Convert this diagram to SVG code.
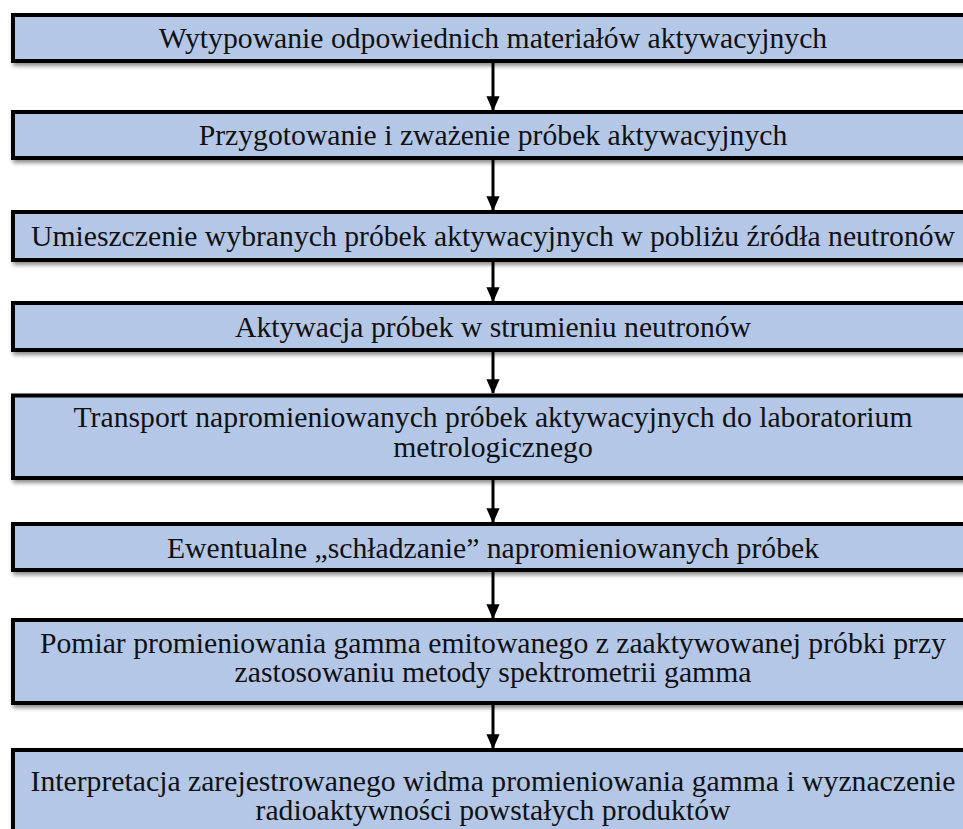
<svg xmlns="http://www.w3.org/2000/svg" width="963" height="829" viewBox="0 0 963 829">
<defs>
<filter id="sh" x="-5%" y="-30%" width="110%" height="170%">
<feDropShadow dx="2" dy="3" stdDeviation="2" flood-color="#000" flood-opacity="0.45"/>
</filter>
<marker id="ah" markerWidth="5" markerHeight="5" refX="4.6" refY="2.5" orient="auto" markerUnits="strokeWidth" viewBox="0 0 5 5">
<path d="M0,0.3 L5,2.5 L0,4.7 z" fill="#000"/>
</marker>
<style>
.box{fill:#B4C7E7;stroke:#000;stroke-width:4;filter:url(#sh)}
.t{font-family:'Liberation Serif','DejaVu Serif',serif;font-size:29.7px;fill:#111;text-anchor:middle}
.c{stroke:#000;stroke-width:3;fill:none;marker-end:url(#ah)}
</style>
</defs>
<rect width="963" height="829" fill="#fff"/>
<g id="connectors">
<line class="c" x1="493" y1="63" x2="493" y2="110"/>
<line class="c" x1="493" y1="160" x2="493" y2="210"/>
<line class="c" x1="493" y1="262" x2="493" y2="301"/>
<line class="c" x1="493" y1="352" x2="493" y2="393"/>
<line class="c" x1="493" y1="480" x2="493" y2="522"/>
<line class="c" x1="493" y1="572" x2="493" y2="618"/>
<line class="c" x1="493" y1="705" x2="493" y2="748"/>
</g>
<g id="n1"><rect class="box" x="13" y="15" width="962" height="46"/><text class="t" x="493" y="48">Wytypowanie odpowiednich materiałów aktywacyjnych</text></g>
<g id="n2"><rect class="box" x="13" y="112" width="962" height="46"/><text class="t" x="493" y="145">Przygotowanie i zważenie próbek aktywacyjnych</text></g>
<g id="n3"><rect class="box" x="13" y="212" width="962" height="48"/><text class="t" x="493" y="246">Umieszczenie wybranych próbek aktywacyjnych w pobliżu źródła neutronów</text></g>
<g id="n4"><rect class="box" x="13" y="303" width="962" height="47"/><text class="t" x="493" y="337">Aktywacja próbek w strumieniu neutronów</text></g>
<g id="n5"><rect class="box" x="13" y="395.5" width="962" height="82.5"/><text class="t" x="493" y="427">Transport napromieniowanych próbek aktywacyjnych do laboratorium</text><text class="t" x="493" y="457">metrologicznego</text></g>
<g id="n6"><rect class="box" x="13" y="524" width="962" height="46"/><text class="t" x="493" y="558">Ewentualne „schładzanie” napromieniowanych próbek</text></g>
<g id="n7"><rect class="box" x="13" y="620" width="962" height="83"/><text class="t" x="493" y="653">Pomiar promieniowania gamma emitowanego z zaaktywowanej próbki przy</text><text class="t" x="493" y="682">zastosowaniu metody spektrometrii gamma</text></g>
<g id="n8"><rect class="box" x="13" y="750" width="962" height="100"/><text class="t" x="493" y="791">Interpretacja zarejestrowanego widma promieniowania gamma i wyznaczenie</text><text class="t" x="493" y="820">radioaktywności powstałych produktów</text></g>
</svg>
